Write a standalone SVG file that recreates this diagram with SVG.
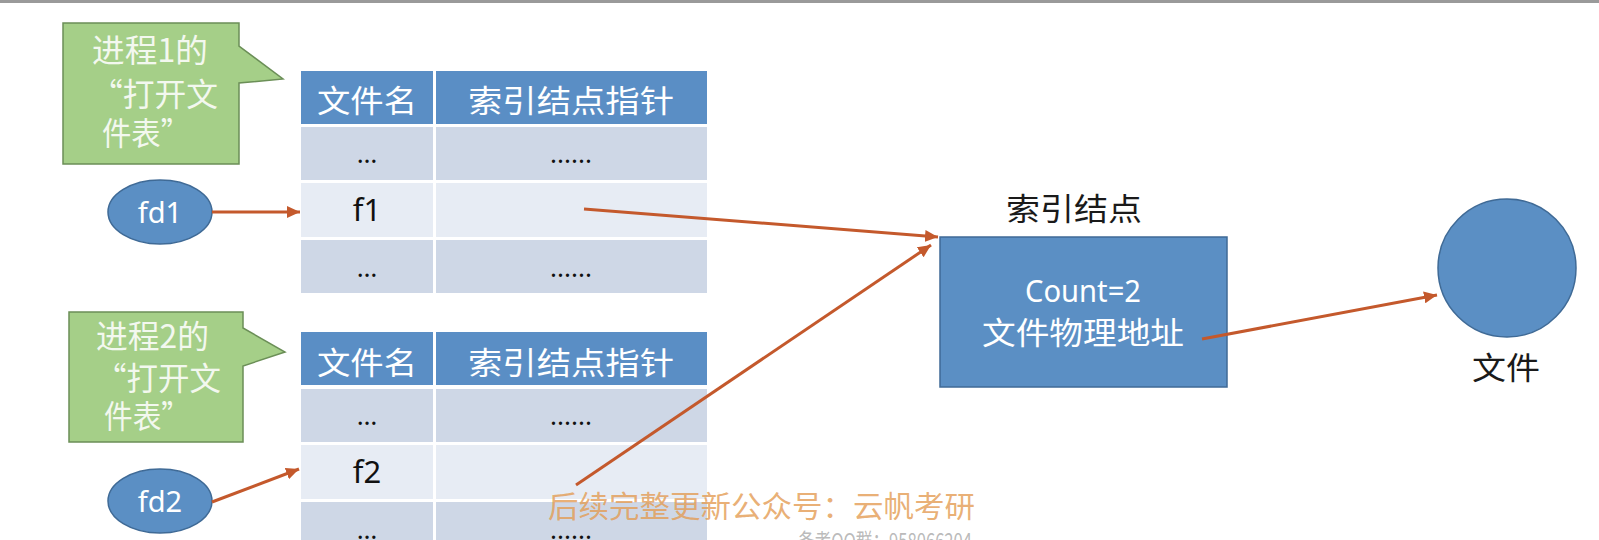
<svg xmlns="http://www.w3.org/2000/svg" width="1599" height="540" viewBox="0 0 1599 540">
  <defs>
    <style>
      .cjk { font-family: "Noto Sans CJK SC", "Noto Sans", sans-serif; }
      .lat { font-family: "Noto Sans", "Open Sans", "Noto Sans CJK SC", sans-serif; }
      .callout { fill: #A5CF88; stroke: #6B8F57; stroke-width: 1.5; }
      .ctext { fill: #F3F8EF; font-size: 32px; }
      .hdr { fill: #5A8EC5; }
      .rowA { fill: #CED7E6; }
      .rowB { fill: #E7ECF4; }
      .htext { fill: #FFFFFF; font-size: 31px; text-anchor: middle; dominant-baseline: central; }
      .dots { fill: #111111; font-size: 26px; text-anchor: middle; }
      .fname { fill: #111111; font-size: 31px; text-anchor: middle; }
      .blue { fill: #5B8FC4; stroke: #3F6A96; stroke-width: 1.5; }
      .wtext { fill: #FFFFFF; text-anchor: middle; }
      .label { fill: #1A1A1A; font-size: 31px; text-anchor: middle; }
      .conn { fill: none; stroke: #C4592C; stroke-width: 3; }
    </style>
    <marker id="arr" markerUnits="userSpaceOnUse" markerWidth="14" markerHeight="12" refX="13" refY="6" orient="auto">
      <path d="M0,0 L13,6 L0,12 Z" fill="#C4592C"/>
    </marker>
  </defs>

  <rect x="0" y="0" width="1599" height="540" fill="#FFFFFF"/>
  <rect x="0" y="0" width="1599" height="3" fill="#9A9A9A"/>

  <g id="callout1">
    <path class="callout" d="M63,23 H239 V46 L283,79 L239,83 V164 H63 Z"/>
    <text class="cjk ctext" x="92" y="62" textLength="116" lengthAdjust="spacingAndGlyphs">进程1的</text>
    <text class="cjk ctext" x="91" y="106" textLength="127" lengthAdjust="spacingAndGlyphs">“打开文</text>
    <text class="cjk ctext" x="102" y="145" textLength="88" lengthAdjust="spacingAndGlyphs">件表”</text>
  </g>

  <g id="table1">
    <rect class="hdr" x="301" y="71" width="132" height="53"/>
    <rect class="hdr" x="436" y="71" width="271" height="53"/>
    <rect class="rowA" x="301" y="127" width="132" height="53"/>
    <rect class="rowA" x="436" y="127" width="271" height="53"/>
    <rect class="rowB" x="301" y="183" width="132" height="54"/>
    <rect class="rowB" x="436" y="183" width="271" height="54"/>
    <rect class="rowA" x="301" y="240" width="132" height="53"/>
    <rect class="rowA" x="436" y="240" width="271" height="53"/>
    <text class="cjk htext" x="367" y="98" textLength="100" lengthAdjust="spacingAndGlyphs">文件名</text>
    <text class="cjk htext" x="571" y="98" textLength="206" lengthAdjust="spacingAndGlyphs">索引结点指针</text>
    <text class="lat dots" x="367" y="163">…</text>
    <text class="lat dots" x="571" y="163">......</text>
    <text class="lat fname" x="367" y="221">f1</text>
    <text class="lat dots" x="367" y="277">…</text>
    <text class="lat dots" x="571" y="277">......</text>
  </g>

  <g id="fd1">
    <ellipse class="blue" cx="160" cy="212" rx="52" ry="32"/>
    <text class="lat wtext" x="160" y="223" font-size="29">fd1</text>
  </g>

  <g id="callout2">
    <path class="callout" d="M69,312 H243 V328 L285,352 L243,366 V442 H69 Z"/>
    <text class="cjk ctext" x="96" y="348" textLength="113" lengthAdjust="spacingAndGlyphs">进程2的</text>
    <text class="cjk ctext" x="95" y="390" textLength="126" lengthAdjust="spacingAndGlyphs">“打开文</text>
    <text class="cjk ctext" x="104" y="428" textLength="86" lengthAdjust="spacingAndGlyphs">件表”</text>
  </g>

  <g id="table2">
    <rect class="hdr" x="301" y="332" width="132" height="53"/>
    <rect class="hdr" x="436" y="332" width="271" height="53"/>
    <rect class="rowA" x="301" y="389" width="132" height="53"/>
    <rect class="rowA" x="436" y="389" width="271" height="53"/>
    <rect class="rowB" x="301" y="445" width="132" height="54"/>
    <rect class="rowB" x="436" y="445" width="271" height="54"/>
    <rect class="rowA" x="301" y="502" width="132" height="53"/>
    <rect class="rowA" x="436" y="502" width="271" height="53"/>
    <text class="cjk htext" x="367" y="360" textLength="100" lengthAdjust="spacingAndGlyphs">文件名</text>
    <text class="cjk htext" x="571" y="360" textLength="206" lengthAdjust="spacingAndGlyphs">索引结点指针</text>
    <text class="lat dots" x="367" y="425">…</text>
    <text class="lat dots" x="571" y="425">......</text>
    <text class="lat fname" x="367" y="483">f2</text>
    <text class="lat dots" x="367" y="539">…</text>
    <text class="lat dots" x="571" y="539">......</text>
  </g>

  <g id="fd2">
    <ellipse class="blue" cx="160" cy="501" rx="52" ry="32"/>
    <text class="lat wtext" x="160" y="512" font-size="29">fd2</text>
  </g>

  <g id="inode">
    <text class="cjk label" x="1074" y="220" textLength="136" lengthAdjust="spacingAndGlyphs">索引结点</text>
    <rect class="blue" x="940" y="237" width="287" height="150"/>
    <text class="lat wtext" x="1083" y="302" font-size="30" textLength="116" lengthAdjust="spacingAndGlyphs">Count=2</text>
    <text class="cjk wtext" x="1083" y="344" font-size="31" textLength="202" lengthAdjust="spacingAndGlyphs">文件物理地址</text>
  </g>

  <g id="file">
    <circle class="blue" cx="1507" cy="268" r="69"/>
    <text class="cjk label" x="1506" y="379" textLength="68" lengthAdjust="spacingAndGlyphs">文件</text>
  </g>

  <g id="connectors">
    <path class="conn" marker-end="url(#arr)" d="M212,212 L300,212"/>
    <path class="conn" marker-end="url(#arr)" d="M212,502 L299,469"/>
    <path class="conn" marker-end="url(#arr)" d="M584,209 L938,237"/>
    <path class="conn" marker-end="url(#arr)" d="M576,485 L931,245"/>
    <path class="conn" marker-end="url(#arr)" d="M1202,339 L1437,295"/>
  </g>

  <g id="watermark">
    <text class="cjk" x="548" y="517" font-size="30" fill="#E39B52" fill-opacity="0.8" textLength="427" lengthAdjust="spacingAndGlyphs">后续完整更新公众号：云帆考研</text>
    <text class="cjk" x="798" y="549" font-size="22" fill="#A8A8A8" fill-opacity="0.8" textLength="174" lengthAdjust="spacingAndGlyphs">备考QQ群：958066204</text>
  </g>
</svg>
